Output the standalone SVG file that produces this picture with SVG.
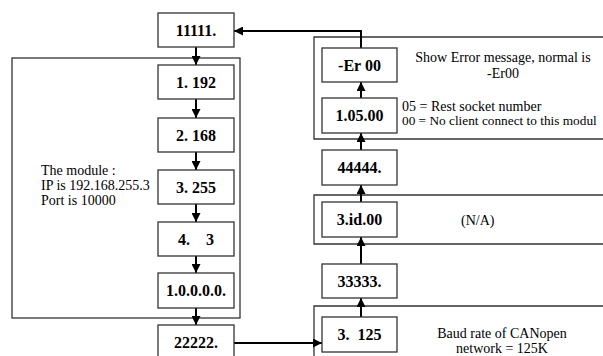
<svg xmlns="http://www.w3.org/2000/svg" width="603" height="356" viewBox="0 0 603 356">
<defs>
<style>
.box{fill:#fff;stroke:#333;stroke-width:1.3}
.panel{fill:none;stroke:#333;stroke-width:1.3}
.bt{font-family:'Liberation Serif','Times New Roman','DejaVu Serif',serif;font-weight:bold;font-size:16px;text-anchor:middle;fill:#000}
.t{font-family:'Liberation Serif','Times New Roman','DejaVu Serif',serif;font-size:14px;fill:#000}
.c{text-anchor:middle}
.con{fill:none;stroke:#000;stroke-width:2;marker-end:url(#ah)}
</style>
<marker id="ah" viewBox="0 0 10 10" refX="10" refY="5" markerWidth="4.5" markerHeight="4.5" orient="auto" markerUnits="strokeWidth">
<path d="M0,0 L10,5 L0,10 z" fill="#000"/>
</marker>
</defs>
<rect width="603" height="356" fill="#fff"/>
<g id="panels">
<rect class="panel" x="12" y="58" width="228" height="260"/>
<path class="panel" d="M604,37 H314 V139 H604"/>
<path class="panel" d="M604,195 H314 V244 H604"/>
<path class="panel" d="M604,306 H314 V357"/>
</g>
<g id="connectors">
<line class="con" x1="196" y1="47" x2="196" y2="65"/>
<line class="con" x1="196" y1="99" x2="196" y2="118"/>
<line class="con" x1="196" y1="152" x2="196" y2="170"/>
<line class="con" x1="196" y1="204" x2="196" y2="222"/>
<line class="con" x1="196" y1="256" x2="196" y2="273"/>
<line class="con" x1="196" y1="308" x2="196" y2="325"/>
<line class="con" x1="234" y1="343" x2="322" y2="343"/>
<line class="con" x1="361" y1="317" x2="361" y2="298"/>
<line class="con" x1="361" y1="264" x2="361" y2="237"/>
<line class="con" x1="361" y1="202" x2="361" y2="185"/>
<line class="con" x1="361" y1="150" x2="361" y2="133"/>
<line class="con" x1="361" y1="98" x2="361" y2="82"/>
<polyline class="con" points="361,48 361,31 234,31"/>
</g>
<g id="n11111"><rect class="box" x="158" y="13" width="76" height="34"/><text class="bt" x="196" y="36">11111.</text></g>
<g id="n1192"><rect class="box" x="158" y="65" width="76" height="34"/><text class="bt" x="196" y="88">1. 192</text></g>
<g id="n2168"><rect class="box" x="158" y="118" width="76" height="34"/><text class="bt" x="196" y="141">2. 168</text></g>
<g id="n3255"><rect class="box" x="158" y="170" width="76" height="34"/><text class="bt" x="196" y="193">3. 255</text></g>
<g id="n43"><rect class="box" x="158" y="222" width="76" height="34"/><text class="bt" x="196" y="245" xml:space="preserve">4.    3</text></g>
<g id="n10000"><rect class="box" x="158" y="273" width="76" height="35"/><text class="bt" x="196" y="296">1.0.0.0.0.</text></g>
<g id="n22222"><rect class="box" x="158" y="325" width="76" height="36"/><text class="bt" x="196" y="348">22222.</text></g>
<g id="nEr"><rect class="box" x="322" y="48" width="75" height="34"/><text class="bt" x="359.5" y="71">-Er 00</text></g>
<g id="n10500"><rect class="box" x="322" y="98" width="75" height="35"/><text class="bt" x="359.5" y="121">1.05.00</text></g>
<g id="n44444"><rect class="box" x="322" y="150" width="75" height="35"/><text class="bt" x="359.5" y="173">44444.</text></g>
<g id="n3id"><rect class="box" x="322" y="202" width="75" height="35"/><text class="bt" x="359.5" y="225">3.id.00</text></g>
<g id="n33333"><rect class="box" x="322" y="264" width="75" height="34"/><text class="bt" x="359.5" y="287">33333.</text></g>
<g id="n3125"><rect class="box" x="322" y="317" width="75" height="35"/><text class="bt" x="359.5" y="340" xml:space="preserve">3.  125</text></g>
<g id="labels">
<text class="t" x="41" y="175">The module :</text>
<text class="t" x="41" y="190">IP is 192.168.255.3</text>
<text class="t" x="41" y="205">Port is 10000</text>
<text class="t c" x="503" y="62">Show Error message, normal is</text>
<text class="t c" x="503" y="78">-Er00</text>
<text class="t" x="402" y="111">05 = Rest socket number</text>
<text class="t" x="402" y="125" style="font-size:13.3px">00 = No client connect to this modul</text>
<text class="t" x="461" y="225">(N/A)</text>
<text class="t c" x="502" y="338">Baud rate of CANopen</text>
<text class="t c" x="502" y="353">network = 125K</text>
</g>
</svg>
